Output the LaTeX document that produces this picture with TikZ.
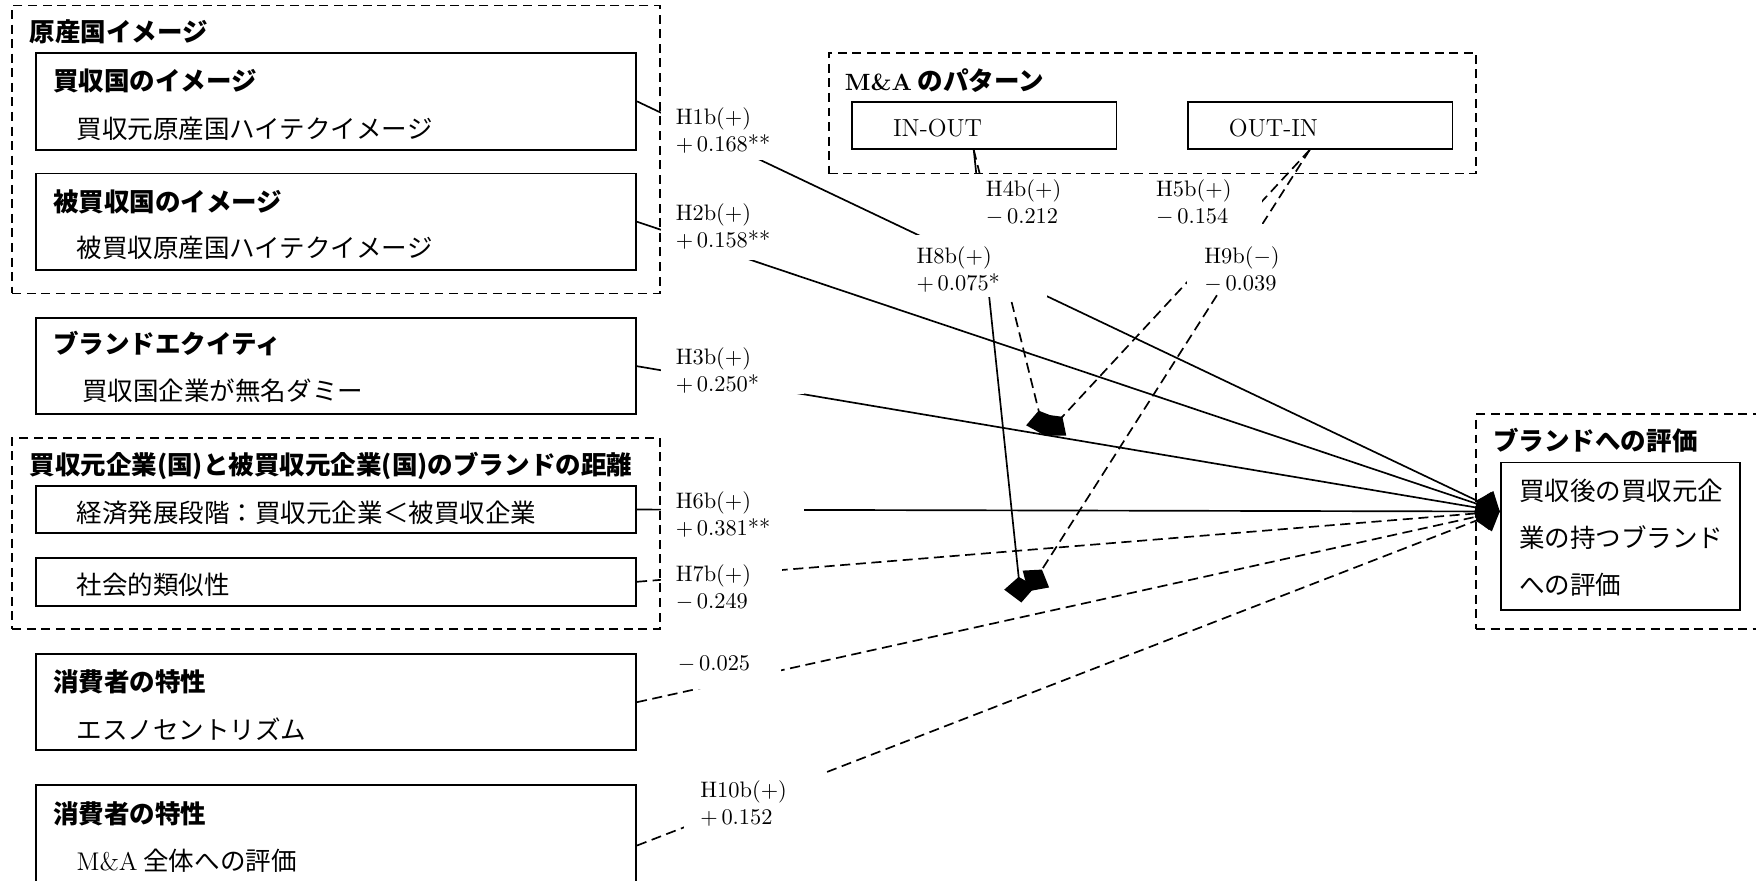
\documentclass[tikz,border=0pt]{standalone}
\usepackage{fontspec}
\newfontfamily\jp{Noto Sans CJK JP}
\usetikzlibrary{arrows.meta,fit,calc}
\begin{document}
\begin{tikzpicture}[x=0.5pt,y=-0.5pt,
  grp/.style={draw, line width=0.8pt, dash pattern=on 4pt off 2.5pt, inner sep=0pt},
  bx/.style={draw, line width=0.8pt, inner sep=0pt},
  jt/.style={font=\fontsize{11.4}{13}\selectfont\jp\bfseries, anchor=west, inner sep=0pt},
  js/.style={font=\fontsize{11.4}{13}\selectfont\jp, anchor=west, inner sep=0pt},
  lb/.style={font=\fontsize{10}{12}\selectfont, anchor=west, inner sep=0pt, align=left},
  lat/.style={font=\fontsize{11}{13}\selectfont, anchor=west, inner sep=0pt},
  conn/.style={line width=0.75pt, -{Kite[length=11.5pt,width=14pt,inset=5pt]}},
  connd/.style={conn, dash pattern=on 4.5pt off 2.5pt},
  cover/.style={fill=white}]
\useasboundingbox (0,0) rectangle (1568,785.8);

% groups
\node[grp, fit={(11,5)(589,262)}] (g1) {};
\node[grp, fit={(11,391)(589,562)}] (g2) {};
\node[grp, fit={(740,47)(1318,155)}] (g3) {};
\node[grp, fit={(1318,370)(1590,562)}] (g4) {};

% boxes
\node[bx, fit={(32,47)(568,134)}] (b1) {};
\node[bx, fit={(32,155)(568,241)}] (b2) {};
\node[bx, fit={(32,284)(568,370)}] (b3) {};
\node[bx, fit={(32,434)(568,476)}] (b4) {};
\node[bx, fit={(32,498)(568,541)}] (b5) {};
\node[bx, fit={(32,584)(568,670)}] (b6) {};
\node[bx, fit={(32,701)(568,809)}] (b7) {};
\node[bx, fit={(761,91)(997,133)}] (io) {};
\node[bx, fit={(1061,91)(1297,133)}] (oi) {};
\node[bx, fit={(1340,413)(1554,545)}] (t) {};

% texts
\node[jt] (g1t) at (26,28) {原産国イメージ};
\node[jt] (b1t) at (47,72) {買収国のイメージ};
\node[js] (b1s) at (68,115) {買収元原産国ハイテクイメージ};
\node[jt] (b2t) at (47,180) {被買収国のイメージ};
\node[js] (b2s) at (68,221) {被買収原産国ハイテクイメージ};
\node[jt] (b3t) at (47,307) {ブランドエクイティ};
\node[js] (b3s) at (73,349) {買収国企業が無名ダミー};
\node[jt] (g2t) at (26,416) {買収元企業(国)と被買収元企業(国)のブランドの距離};
\node[js] (b4s) at (68,458) {経済発展段階：買収元企業＜被買収企業};
\node[js] (b5s) at (68,522) {社会的類似性};
\node[jt] (b6t) at (47,609) {消費者の特性};
\node[js] (b6s) at (68,651) {エスノセントリズム};
\node[jt] (b7t) at (47,727) {消費者の特性};
\node[js] (b7s) at (68,769) {{\rmfamily M\&A} 全体への評価};
\node[jt] (g3t) at (754,72) {{\rmfamily\bfseries\fontsize{10.5}{13}\selectfont M\&A} のパターン};
\node[lat] (iot) at (797,114) {IN-OUT};
\node[lat] (oit) at (1097,114) {OUT-IN};
\node[jt] (g4t) at (1333,393) {ブランドへの評価};
\node[js, align=left, font=\fontsize{11.4}{21}\selectfont\jp] (tt) at (1356,480) {買収後の買収元企\\業の持つブランド\\への評価};

% connector anchors
\coordinate (tp) at ($(t.north west)!0.3333!(t.south west)$);
\coordinate (ios) at ($(io.south west)!0.46!(io.south east)$);
\coordinate (ois) at ($(oi.south west)!0.46!(oi.south east)$);
\coordinate (m1) at (933,389);
\coordinate (m2) at (912,538);
\coordinate (m3) at (918,528);

% connectors
\draw[conn] (b1.east) -- (tp);
\draw[conn] (b2.east) -- (tp);
\draw[conn] (b3.east) -- (tp);
\draw[conn] (b4.east) -- (tp);
\draw[connd] (b5.east) -- (tp);
\draw[connd] (b6.east) -- (tp);
\draw[connd] (b7.east) -- (tp);
\draw[connd] (ios) -- (m1);
\draw[conn] (ios) -- (m2);
\draw[connd] (ois) -- (m1);
\draw[connd] (ois) -- (m3);

% label backgrounds
\fill[cover] (590,92) rectangle (718,143);
\fill[cover] (590,177) rectangle (718,232);
\fill[cover] (590,300) rectangle (718,352);
\fill[cover] (590,432) rectangle (718,484);
\fill[cover] (590,498) rectangle (698,548);
\fill[cover] (595,575) rectangle (697,615);
\fill[cover] (611,689) rectangle (736,745);
\fill[cover] (810,210) rectangle (935,265);
\fill[cover] (866,155) rectangle (1127,210);
\fill[cover] (1060,200) rectangle (1148,262);

% labels
\node[lb] (l1) at (603,116.5) {H1b(+)\\$+$\,0.168**};
\node[lb] (l2) at (603,202) {H2b(+)\\$+$\,0.158**};
\node[lb] (l3) at (603,331) {H3b(+)\\$+$\,0.250*};
\node[lb] (l6) at (603,459.5) {H6b(+)\\$+$\,0.381**};
\node[lb] (l7) at (603,524.5) {H7b(+)\\$-$\,0.249};
\node[lb] (le) at (605,593) {$-$\,0.025};
\node[lb] (l10) at (625,717.5) {H10b(+)\\$+$\,0.152};
\node[lb] (l8) at (818,240.5) {H8b(+)\\$+$\,0.075*};
\node[lb] (l4) at (880,181) {H4b(+)\\$-$\,0.212};
\node[lb] (l5) at (1032,181) {H5b(+)\\$-$\,0.154};
\node[lb] (l9) at (1075,240.5) {H9b($-$)\\$-$\,0.039};
\end{tikzpicture}
\end{document}
